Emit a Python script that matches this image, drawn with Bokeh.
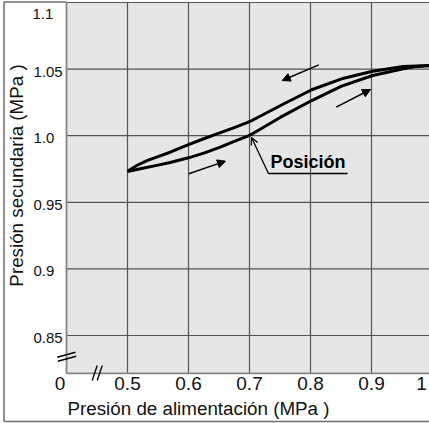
import math
from bokeh.plotting import figure
from bokeh.models import Arrow, NormalHead, OpenHead, Range1d
from bokeh.core.properties import value
from bokeh.embed import file_html
from bokeh.resources import INLINE

# ---------------- data ----------------
x_ticks = [0.5, 0.6, 0.7, 0.8, 0.9]
x_tick_labels = ["0.5", "0.6", "0.7", "0.8", "0.9"]
x_first_tick, x_first_label = 0.4, "0"      # broken axis origin
x_last_tick, x_last_label = 1.0, "1"
y_ticks = [0.85, 0.9, 0.95, 1.0, 1.05]
y_tick_labels = ["0.85", "0.9", "0.95", "1.0", "1.05"]
y_top_tick, y_top_label = 1.1, "1.1"

x_title = "Presión de alimentación (MPa )"
y_title = "Presión secundaria (MPa )"
note_text = "Posición"

# rising branch (lower curve)
x_rise = [0.502, 0.521, 0.550, 0.570, 0.600, 0.625, 0.650, 0.674, 0.700,
          0.751, 0.802, 0.851, 0.902, 0.952, 0.970, 1.0]
y_rise = [0.9733, 0.9752, 0.9779, 0.9799, 0.9834, 0.9869, 0.9911, 0.9956, 1.0002,
          1.0139, 1.0264, 1.0372, 1.0452, 1.0502, 1.0518, 1.0527]
# falling branch (upper curve)
x_fall = [0.502, 0.516, 0.532, 0.550, 0.570, 0.600, 0.625, 0.650, 0.674, 0.700,
          0.751, 0.802, 0.851, 0.902, 0.952, 1.0]
y_fall = [0.9739, 0.9778, 0.9813, 0.9843, 0.9876, 0.9933, 0.9977, 1.0019, 1.0059, 1.0105,
          1.0227, 1.0345, 1.0427, 1.0484, 1.0520, 1.0527]

# direction arrows (start x, start y, end x, end y)
arrows = [
    (0.8136, 1.0532, 0.7536, 1.0414),
    (0.8421, 1.0214, 0.8984, 1.0347),
    (0.6005, 0.9714, 0.6607, 0.9809),
]
# "Posición" callout
note_leader = (0.7311, 0.9716, 0.7033, 0.9986)
note_underline = (0.7311, 0.8607, 0.9716)
note_pos = (0.7344, 0.9803)

# plot-area extent (data)
AX_X0, AX_X1 = 0.4, 1.0
AX_Y0, AX_Y1 = 0.8215, 1.1

# ---------------- layout geometry (canvas pixels) ----------------
W, H = 429, 423
PX_LEFT, PX_TOP = 66, 2          # canvas position of plot-area corner (0.4, 1.1)
PX_PER_X, PX_PER_Y = 610.0, 1332.0
XR0 = AX_X0 - PX_LEFT / PX_PER_X
XR1 = XR0 + W / PX_PER_X
YR1 = AX_Y1 + PX_TOP / PX_PER_Y
YR0 = YR1 - H / PX_PER_Y

def px_x(px):
    return XR0 + px / PX_PER_X

def px_y(py):
    return YR1 - py / PX_PER_Y

FONT = "Liberation Sans"
TXT = "#111111"
GRID = "#555555"
EDGE = "#858585"

p = figure(width=W, height=H, output_backend="svg", toolbar_location=None,
           x_range=Range1d(XR0, XR1), y_range=Range1d(YR0, YR1),
           min_border=0, min_border_left=0, min_border_right=0,
           min_border_top=0, min_border_bottom=0)
p.axis.visible = False
p.grid.visible = False
p.outline_line_color = None
p.background_fill_color = "white"
p.border_fill_color = "white"

# gray plot area
p.quad(left=[AX_X0], right=[XR1 + 0.01], bottom=[AX_Y0], top=[AX_Y1],
       fill_color="#e6e6e6", line_color=None)

# grid lines
gy = y_ticks + [y_top_tick]
p.segment(x0=x_ticks, x1=x_ticks, y0=[AX_Y0] * len(x_ticks), y1=[AX_Y1] * len(x_ticks),
          line_color=GRID, line_width=1.2)
p.segment(x0=[AX_X0] * len(gy), x1=[XR1 + 0.01] * len(gy), y0=gy, y1=gy,
          line_color=GRID, line_width=1.2)

# plot-area edges (axes)
p.line([AX_X0, AX_X0], [AX_Y0, AX_Y1], line_color=EDGE, line_width=1.8)
p.line([AX_X0, XR1 + 0.01], [AX_Y0, AX_Y0], line_color=EDGE, line_width=1.8)

# curves
p.line(x_rise, y_rise, line_color="black", line_width=3, line_join="round", line_cap="round")
p.line(x_fall, y_fall, line_color="black", line_width=3, line_join="round", line_cap="round")

for (xs, ys, xe, ye) in arrows:
    p.add_layout(Arrow(x_start=xs, y_start=ys, x_end=xe, y_end=ye, line_width=1.5,
                       line_color="black",
                       end=NormalHead(size=8, fill_color="black", line_color="black", line_width=1)))

# callout
lx0, ly0, lx1, ly1 = note_leader
p.add_layout(Arrow(x_start=lx0, y_start=ly0, x_end=lx1, y_end=ly1, line_width=1.3,
                   line_color="black", end=OpenHead(size=7, line_width=1.3, line_color="black")))
ux0, ux1, uy = note_underline
p.line([ux0, ux1], [uy, uy], line_color="black", line_width=1.6)
p.text(x=[note_pos[0]], y=[note_pos[1]], text=[note_text], text_font=value(FONT),
       text_font_style="bold", text_font_size="18px", text_baseline="middle",
       text_align="left", text_color="black")

# tick labels
p.text(x=x_ticks, y=[AX_Y0] * len(x_ticks), text=x_tick_labels, y_offset=4,
       text_font=value(FONT), text_font_size="19px", text_align="center",
       text_baseline="top", text_color=TXT)
p.text(x=[x_first_tick, x_last_tick], y=[AX_Y0, AX_Y0], text=[x_first_label, x_last_label],
       x_offset=[-6.5, -11], y_offset=4,
       text_font=value(FONT), text_font_size="19px", text_align="center",
       text_baseline="top", text_color=TXT)
p.text(x=[AX_X0] * len(y_ticks), y=y_ticks, text=y_tick_labels, x_offset=-33, y_offset=2.5,
       text_font=value(FONT), text_font_size="15px", text_align="left",
       text_baseline="middle", text_color=TXT)
p.text(x=[AX_X0], y=[y_top_tick], text=[y_top_label], x_offset=-34, y_offset=11.5,
       text_font=value(FONT), text_font_size="15px", text_align="left",
       text_baseline="middle", text_color=TXT)

# axis titles
p.text(x=[AX_X0], y=[AX_Y0], text=[x_title], x_offset=132, y_offset=35,
       text_font=value(FONT), text_font_size="18.8px", text_align="center",
       text_baseline="middle", text_color=TXT)
p.text(x=[AX_X0], y=[AX_Y0], text=[y_title], x_offset=-50, y_offset=-198, angle=math.pi / 2,
       text_font=value(FONT), text_font_size="18.8px", text_align="center",
       text_baseline="middle", text_color=TXT)

# axis break marks
brk = [((56.7, 356.7), (75, 351.7)), ((57.3, 360.7), (75.7, 355.7)),
       ((91.7, 380), (96.7, 365)), ((96.7, 380), (101.7, 365))]
p.segment(x0=[px_x(a[0]) for a, b in brk], y0=[px_y(a[1]) for a, b in brk],
          x1=[px_x(b[0]) for a, b in brk], y1=[px_y(b[1]) for a, b in brk],
          line_color="black", line_width=1.4)

# outer frame of the figure
BL, BT, BB = px_x(3.5), px_y(1.5), px_y(421)
p.line([BL, BL, AX_X0], [BB, BT, BT], line_color="#6e6e6e", line_width=1.5)
p.line([BL, XR1 + 0.01], [BB, BB], line_color="#6e6e6e", line_width=1.5)

open("out.html", "w").write(file_html(p, INLINE))
